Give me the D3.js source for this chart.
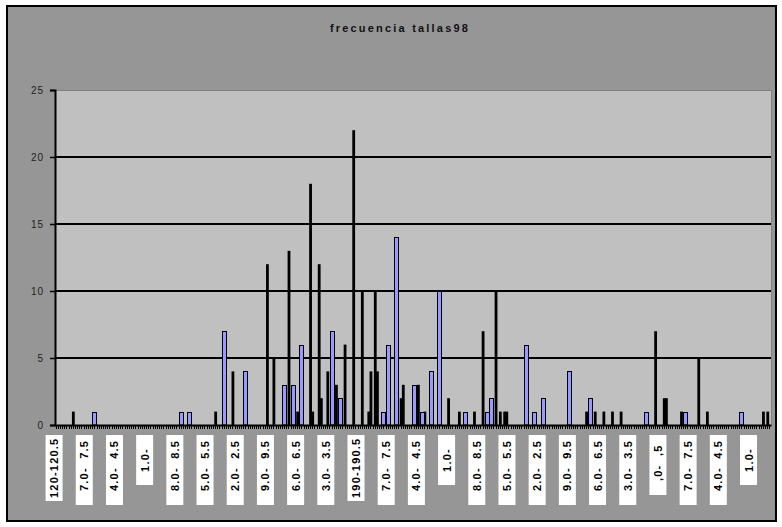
<!DOCTYPE html>
<html>
<head>
<meta charset="utf-8">
<script src="https://cdn.jsdelivr.net/npm/d3@7"></script>
<style>
	body { margin: 0; background: #fff; }
	text { font-family: Arial, "Liberation Sans", sans-serif; }
</style>
</head>
<body>
<div id="chart"></div>
<script>
// ********** frecuencia tallas98 **********

// Chart size and margins
const width = 782;
const height = 527;
const margin = { top: 90, left: 55, right: 11, bottom: 102 };

// Categories: intervals of 0.5 from 120 (120-120.5, 120.5-121, ...)
const desde = 120;
const paso = 0.5;
const nCategorias = 332;

// Bars drawn wide (blue with black border): lower bound of interval and frequency
const anchasDesde = [129, 149, 151, 159, 164, 173, 175, 177, 184, 186, 196, 197, 199, 203, 205, 207, 209, 215, 220, 221, 229, 231, 233, 239, 244, 257, 266, 279];
const anchasFrec  = [1,   1,   1,   7,   4,   3,   3,   6,   7,   2,   1,   6,   14,  3,   1,   4,   10,  1,   1,   2,   6,   1,   2,   4,   2,   1,   1,   1];

// Bars drawn narrow (solid black): lower bound of interval and frequency
const estrechasDesde = [124, 157, 161, 169, 170.5, 174, 176, 179, 179.5, 181, 181.5, 183, 185, 187, 189, 191, 192.5, 193, 194, 194.5, 200, 200.5, 204, 205.5, 211, 213.5, 217, 219, 222, 223, 224, 224.5, 243, 245, 247, 249, 251, 259, 261, 261.5, 265, 269, 271, 284, 285];
const estrechasFrec  = [1,   1,   4,   12,  5,     13,  1,   18,  1,     12,  2,     4,   3,   6,   22,  10,  1,     4,   10,  4,     2,   3,     3,   1,     2,   1,     1,   7,   10,  1,   1,   1,     1,   1,   1,   1,   1,   7,   2,   2,     1,   5,   1,   1,   1];

// Tick labels as they appear under the axis (one every 14 categories)
const etiquetas = ['120-120.5', '7.0-  7.5', '4.0-  4.5', '1.0-', '8.0-  8.5', '5.0-  5.5', '2.0-  2.5', '9.0-  9.5', '6.0-  6.5', '3.0-  3.5',
	'190-190.5', '7.0-  7.5', '4.0-  4.5', '1.0-', '8.0-  8.5', '5.0-  5.5', '2.0-  2.5', '9.0-  9.5', '6.0-  6.5', '3.0-  3.5',
	',0-  ,5', '7.0-  7.5', '4.0-  4.5', '1.0-'];
const etiquetaCada = 14;

const yTicks = [0, 5, 10, 15, 20, 25];
const titulo = 'frecuencia tallas98';

// Build category names
const categorias = [];
for (let i = 0; i < nCategorias; i++) {
	const a = desde + i * paso;
	categorias.push(`${a}-${a + paso}`);
}
const catDe = v => `${v}-${v + paso}`;

const serieAnchas = anchasDesde.map((v, i) => ({ cat: catDe(v), value: anchasFrec[i] }));
const serieEstrechas = estrechasDesde.map((v, i) => ({ cat: catDe(v), value: estrechasFrec[i] }));

// Scales
const plotW = width - margin.left - margin.right;
const plotH = height - margin.top - margin.bottom;

const xScale = d3.scaleBand()
	.domain(categorias)
	.range([0, plotW])
	.padding(0);

const yScale = d3.scaleLinear()
	.domain([0, 25])
	.range([plotH, 0]);

const cx = c => xScale(c) + xScale.bandwidth() / 2;

// SVG
const svg = d3.select('#chart')
	.append('svg')
	.attr('width', width)
	.attr('height', height);

// Chart area
svg.append('rect')
	.attr('x', 7)
	.attr('y', 6)
	.attr('width', 769)
	.attr('height', 515)
	.attr('fill', '#969696')
	.attr('stroke', '#000')
	.attr('stroke-width', 2);

// Title
svg.append('text')
	.attr('x', 400)
	.attr('y', 32)
	.attr('text-anchor', 'middle')
	.style('font-size', '11px')
	.style('font-weight', 'bold')
	.style('letter-spacing', '2.2px')
	.attr('fill', '#111')
	.text(titulo);

const body = svg.append('g')
	.attr('transform', `translate(${margin.left}, ${margin.top})`);

// Plot area
body.append('rect')
	.attr('x', 0)
	.attr('y', 0)
	.attr('width', plotW)
	.attr('height', plotH)
	.attr('fill', '#c0c0c0')
	.attr('stroke', '#808080')
	.attr('stroke-width', 1)
	.attr('shape-rendering', 'crispEdges');

// Gridlines
body.append('g')
	.selectAll('line')
	.data(yTicks.filter(d => d > 0 && d < 25))
	.enter()
	.append('line')
	.attr('x1', 0)
	.attr('x2', plotW)
	.attr('y1', d => Math.round(yScale(d)))
	.attr('y2', d => Math.round(yScale(d)))
	.attr('stroke', '#000')
	.attr('stroke-width', 2)
	.attr('shape-rendering', 'crispEdges');

// Narrow bars (solid black)
body.append('g')
	.selectAll('rect')
	.data(serieEstrechas)
	.enter()
	.append('rect')
	.attr('x', d => cx(d.cat) - 1.4)
	.attr('y', d => yScale(d.value))
	.attr('width', 2.8)
	.attr('height', d => plotH - yScale(d.value))
	.attr('fill', '#000');

// Wide bars (blue, black border)
body.append('g')
	.selectAll('rect')
	.data(serieAnchas)
	.enter()
	.append('rect')
	.attr('x', d => Math.round(cx(d.cat) - 2.5) + 0.5)
	.attr('y', d => Math.round(yScale(d.value)) + 0.5)
	.attr('width', 4)
	.attr('height', d => plotH - Math.round(yScale(d.value)) - 0.5)
	.attr('fill', '#9999ff')
	.attr('stroke', '#000')
	.attr('stroke-width', 1);

// Y axis
const yAxis = d3.axisLeft(yScale)
	.tickValues(yTicks)
	.tickSize(5)
	.tickPadding(6);

const gy = body.append('g').call(yAxis);
gy.select('.domain').attr('stroke', '#000').attr('stroke-width', 2);
gy.selectAll('.tick line').attr('stroke', '#000').attr('stroke-width', 1.5);
gy.selectAll('.tick text')
	.style('font-size', '10px')
	.style('font-family', 'Arial, "Liberation Sans", sans-serif')
	.style('letter-spacing', '1px')
	.attr('fill', '#222');

// X axis (ticks only)
const xAxis = d3.axisBottom(xScale)
	.tickSize(4)
	.tickSizeOuter(0)
	.tickFormat('');

const gx = body.append('g')
	.attr('transform', `translate(0, ${plotH})`)
	.call(xAxis);
gx.select('.domain').attr('stroke', '#000').attr('stroke-width', 2);
gx.selectAll('.tick line').attr('stroke', '#000').attr('stroke-width', 1).attr('shape-rendering', 'crispEdges');

// Category labels in white boxes
const boxHeight = s => {
	if (s.length <= 4) return 50;
	if (s.startsWith(',')) return 60;
	if (s.includes('  ')) return 70;
	return 66;
};

const defs = svg.append('defs');
const labels = svg.append('g').attr('class', 'x-labels');

etiquetas.forEach((s, i) => {
	const c = categorias[i * etiquetaCada];
	const x = margin.left + cx(c) - 2;
	const top = 435;
	const h = boxHeight(s);

	defs.append('clipPath')
		.attr('id', `clip-lab-${i}`)
		.append('rect')
		.attr('x', x - 8.5)
		.attr('y', top)
		.attr('width', 17)
		.attr('height', h);

	labels.append('rect')
		.attr('x', x - 8.5)
		.attr('y', top)
		.attr('width', 17)
		.attr('height', h)
		.attr('fill', '#fff');

	const short = s.length <= 4;
	const yStart = short ? top + h / 2 : (s.includes('  ') ? top + h - 14 : top + h - 3);

	labels.append('g')
		.attr('clip-path', `url(#clip-lab-${i})`)
		.append('text')
		.attr('transform', `translate(${x + 4}, ${yStart}) rotate(-90)`)
		.attr('text-anchor', short ? 'middle' : 'start')
		.style('font-size', '11px')
		.style('font-weight', 'bold')
		.style('letter-spacing', '1.2px')
		.style('white-space', 'pre')
		.attr('fill', '#000')
		.text(s);
});
</script>
</body>
</html>
